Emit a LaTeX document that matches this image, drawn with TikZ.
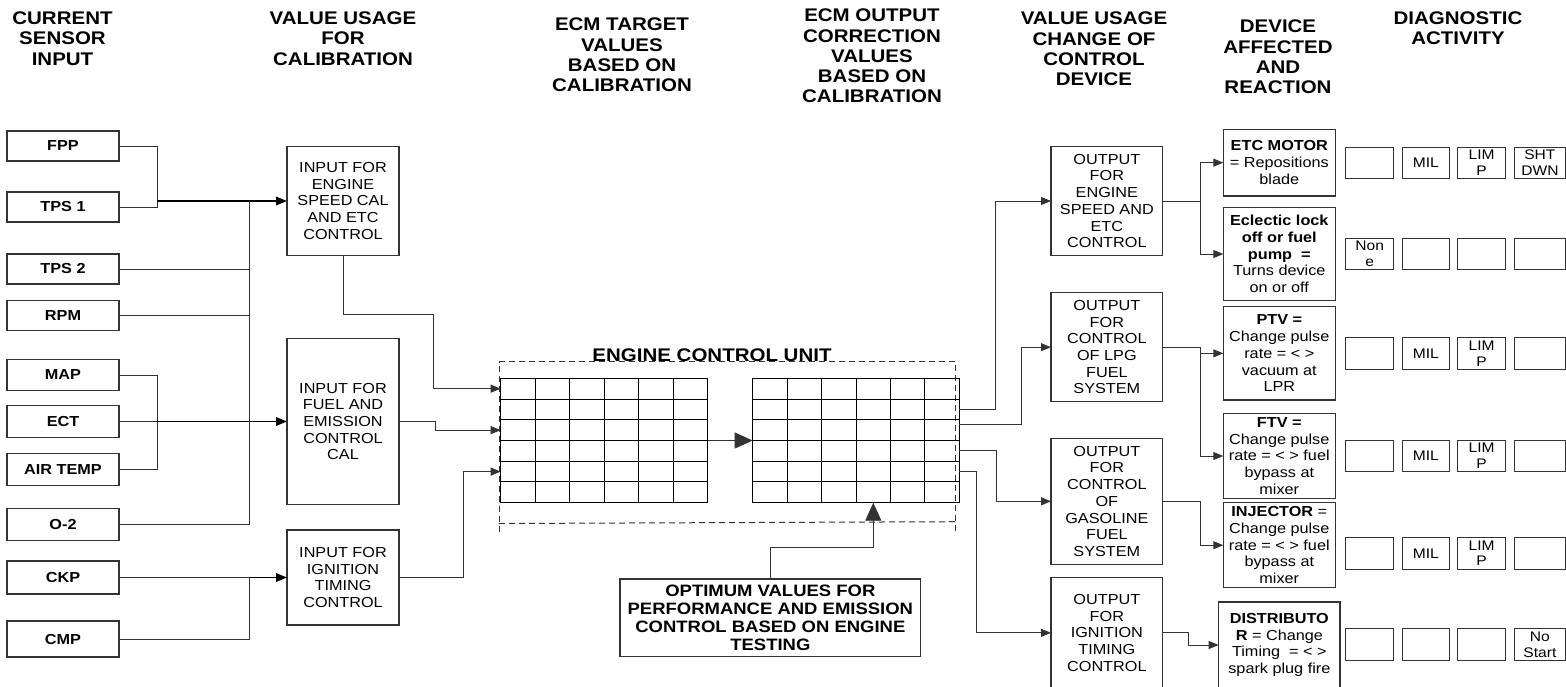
\documentclass[tikz,border=0pt]{standalone}
\usepackage{fontspec}
\setmainfont{Liberation Sans}[FakeStretch=1.12]
\usetikzlibrary{arrows.meta,calc}
\begin{document}
\begin{tikzpicture}[x=1pt,y=-1pt,
  every node/.style={inner sep=0pt, outer sep=0pt},
  hdr/.style={align=center, anchor=north, font=\fontsize{18.3}{20.3}\selectfont\bfseries},
  sensor/.style={draw=black!80, line width=1.1pt, minimum width=112pt, font=\fontsize{14.5}{16}\selectfont\bfseries},
  calbox/.style={draw=black!80, line width=1.1pt, minimum width=112pt, align=center, font=\fontsize{14.5}{16.7}\selectfont},
  diag/.style={draw=black!80, line width=1pt, minimum width=47.5pt, minimum height=31.5pt, align=center, font=\fontsize{13.9}{15.7}\selectfont},
  optbox/.style={draw=black!80, line width=1.1pt, minimum width=300.7pt, minimum height=77.7pt, align=center, font=\fontsize{16.5}{18.3}\selectfont\bfseries},
  gridbox/.style={draw=black, line width=1pt, minimum width=207pt, minimum height=124.4pt},
  wire/.style={draw=black!80, line width=0.9pt},
  thickarr/.style={draw=black, line width=1.7pt, -{Triangle[length=11pt,width=8.5pt]}},
  arr/.style={wire, -{Triangle[length=10pt,width=8pt]}},
  bigarr/.style={wire, -{Triangle[length=18pt,width=16pt]}},
  ecu/.style={draw=black!80, line width=1pt, dash pattern=on 6pt off 4pt}
]
\clip (0,0) rectangle (1566,686);
\fill[white] (0,0) rectangle (1566,686);

% headers
\node[hdr] (h1) at (62.5,11.7) {CURRENT\\SENSOR\\INPUT};
\node[hdr] (h2) at (343,11.7) {VALUE USAGE\\FOR\\CALIBRATION};
\node[hdr] (h3) at (622,18) {ECM TARGET\\VALUES\\BASED ON\\CALIBRATION};
\node[hdr] (h4) at (872,9) {ECM OUTPUT\\CORRECTION\\VALUES\\BASED ON\\CALIBRATION};
\node[hdr] (h5) at (1094,12) {VALUE USAGE\\CHANGE OF\\CONTROL\\DEVICE};
\node[hdr] (h6) at (1278,20) {DEVICE\\AFFECTED\\AND\\REACTION};
\node[hdr] (h7) at (1458,11.7) {DIAGNOSTIC\\ACTIVITY};

% sensors
\node[sensor, minimum height=30pt] (fpp) at (63,146) {FPP};
\node[sensor, minimum height=30pt] (tps1) at (63,207) {TPS 1};
\node[sensor, minimum height=30pt] (tps2) at (63,269) {TPS 2};
\node[sensor, minimum height=30.7pt] (rpm) at (63,315.5) {RPM};
\node[sensor, minimum height=31.3pt] (map) at (63,375) {MAP};
\node[sensor, minimum height=32.3pt] (ect) at (63,421.5) {ECT};
\node[sensor, minimum height=32.3pt] (air) at (63,469.5) {AIR TEMP};
\node[sensor, minimum height=32.3pt] (otwo) at (63,524.5) {O-2};
\node[sensor, minimum height=33pt] (ckp) at (63,577.5) {CKP};
\node[sensor, minimum height=36pt] (cmp) at (63,639) {CMP};

% input calibration boxes
\node[calbox, minimum height=108.6pt] (in1) at (343,201) {INPUT FOR\\ENGINE\\SPEED CAL\\AND ETC\\CONTROL};
\node[calbox, minimum height=165.7pt] (in2) at (343,421.5) {INPUT FOR\\FUEL AND\\EMISSION\\CONTROL\\CAL};
\node[calbox, minimum height=95pt] (in3) at (343,577.5) {INPUT FOR\\IGNITION\\TIMING\\CONTROL};

% ECU
\draw[ecu] (499,532) -- (499,361.7) -- (955.7,361.7) -- (955.7,532);
\draw[ecu] (499,523.5) -- (955.7,521.7);
\node[anchor=base, font=\fontsize{18.3}{20}\selectfont\bfseries] (ecul) at (712,361.5) {ENGINE CONTROL UNIT};
\node[gridbox] (g1) at (604.2,440.5) {};
\node[gridbox, minimum width=206.6pt] (g2) at (856,440.5) {};
\foreach \g in {g1,g2}{
  \foreach \i in {1,...,5}{
    \draw[black, line width=1pt] ($(\g.north west)!\i/6!(\g.north east)$) -- ($(\g.south west)!\i/6!(\g.south east)$);
    \draw[black, line width=1pt] ($(\g.north west)!\i/6!(\g.south west)$) -- ($(\g.north east)!\i/6!(\g.south east)$);
  }
}

% optimum box
\node[optbox] (opt) at (770.35,617.85) {OPTIMUM VALUES FOR\\PERFORMANCE AND EMISSION\\CONTROL BASED ON ENGINE\\TESTING};

% output boxes
\node[calbox, minimum width=111.7pt, minimum height=108.6pt] (o1) at (1106.85,201) {OUTPUT\\FOR\\ENGINE\\SPEED AND\\ETC\\CONTROL};
\node[calbox, minimum width=111.7pt, minimum height=109pt] (o2) at (1106.85,347.2) {OUTPUT\\FOR\\CONTROL\\OF LPG\\FUEL\\SYSTEM};
\node[calbox, minimum width=111.7pt, minimum height=126pt] (o3) at (1106.85,501.3) {OUTPUT\\FOR\\CONTROL\\OF\\GASOLINE\\FUEL\\SYSTEM};
\node[calbox, minimum width=111.7pt, minimum height=110.3pt] (o4) at (1106.85,632.85) {OUTPUT\\FOR\\IGNITION\\TIMING\\CONTROL};

% device boxes
\node[calbox, minimum height=66.7pt] (d1) at (1279.3,162.65) {\textbf{ETC MOTOR}\\= Repositions\\blade};
\node[calbox, minimum height=93.4pt] (d2) at (1279.3,254) {\textbf{Eclectic lock}\\\textbf{off or fuel}\\\textbf{pump \ =}\\Turns device\\on or off};
\node[calbox, minimum height=93.3pt] (d3) at (1279.3,353.35) {\textbf{PTV =}\\Change pulse\\rate = < >\\vacuum at\\LPR};
\node[calbox, minimum height=85.4pt] (d4) at (1279.3,456) {\textbf{FTV =}\\Change pulse\\rate = < > fuel\\bypass at\\mixer};
\node[calbox, minimum height=85pt] (d5) at (1279.3,545.2) {\textbf{INJECTOR} =\\Change pulse\\rate = < > fuel\\bypass at\\mixer};
\node[calbox, minimum width=121.3pt, minimum height=86pt] (d6) at (1279.35,645) {\textbf{DISTRIBUTO}\\\textbf{R} = Change\\Timing \ = < >\\spark plug fire};

% diagnostic boxes
\node[diag] (q11) at (1369.65,162.8) {};
\node[diag] (q12) at (1425.8,162.8) {MIL};
\node[diag] (q13) at (1481.65,162.8) {LIM\\P};
\node[diag, minimum width=51.2pt] (q14) at (1539.9,162.8) {SHT\\DWN};
\node[diag] (q21) at (1369.65,253.8) {Non\\e};
\node[diag] (q22) at (1425.8,253.8) {};
\node[diag] (q23) at (1481.65,253.8) {};
\node[diag, minimum width=51.2pt] (q24) at (1539.9,253.8) {};
\node[diag] (q31) at (1369.65,353.5) {};
\node[diag] (q32) at (1425.8,353.5) {MIL};
\node[diag] (q33) at (1481.65,353.5) {LIM\\P};
\node[diag, minimum width=51.2pt] (q34) at (1539.9,353.5) {};
\node[diag] (q41) at (1369.65,455.8) {};
\node[diag] (q42) at (1425.8,455.8) {MIL};
\node[diag] (q43) at (1481.65,455.8) {LIM\\P};
\node[diag, minimum width=51.2pt] (q44) at (1539.9,455.8) {};
\node[diag] (q51) at (1369.65,553.3) {};
\node[diag] (q52) at (1425.8,553.3) {MIL};
\node[diag] (q53) at (1481.65,553.3) {LIM\\P};
\node[diag, minimum width=51.2pt] (q54) at (1539.9,553.3) {};
\node[diag] (q61) at (1369.65,644.5) {};
\node[diag] (q62) at (1425.8,644.5) {};
\node[diag] (q63) at (1481.65,644.5) {};
\node[diag, minimum width=51.2pt] (q64) at (1539.9,644.5) {No\\Start};

% sensor connectors
\coordinate (j1) at (157,201);
\coordinate (bt) at (249.7,201);
\coordinate (j2) at (157,421.5);
\draw[wire] (fpp.east) -| (j1);
\draw[wire] (tps1.east) -| (j1);
\draw[thickarr] (j1) -- (in1.west);
\draw[wire] (bt) -- (otwo.east -| bt);
\draw[wire] (tps2.east) -- (tps2.east -| bt);
\draw[wire] (rpm.east) -- (rpm.east -| bt);
\draw[wire] (otwo.east) -- (otwo.east -| bt);
\draw[wire] (map.east) -| (j2);
\draw[wire] (air.east) -| (j2);
\draw[wire] (ect.east) -- (j2);
\draw[thickarr] (j2) -- (in2.west);
\draw[wire] (ckp.east) -- (ckp.east -| bt);
\draw[thickarr] (ckp.east -| bt) -- (in3.west);
\draw[wire] (cmp.east) -| (ckp.east -| bt);

% inputs to grid 1
\coordinate (e1) at (433.3,314.3);
\coordinate (e2) at (435.7,421.5);
\coordinate (e3) at (463.3,577.5);
\coordinate (r1) at ($(g1.north west)!0.5/6!(g1.south west)$);
\coordinate (r3) at ($(g1.north west)!2.5/6!(g1.south west)$);
\coordinate (r5) at ($(g1.north west)!4.5/6!(g1.south west)$);
\draw[arr] (in1.south) |- (e1) |- (r1);
\draw[arr] (in2.east) -- (e2) |- (r3);
\draw[arr] (in3.east) -- (e3) |- (r5);

% grid to grid, optimum to grid
\draw[bigarr] (g1.east) -- (g2.west);
\coordinate (c1) at (873.3,547.7);
\draw[bigarr] (opt.north) |- (c1) -- (c1 |- g2.south);

% grid 2 to outputs
\coordinate (k1) at ($(g2.north east)+(0,30.7)$);
\coordinate (k2) at ($(g2.north east)+(0,45.7)$);
\coordinate (k3) at ($(g2.north east)+(0,72.4)$);
\coordinate (k4) at ($(g2.north east)+(0,93.4)$);
\draw[arr] (k1) -| (995,201) -- (o1.west);
\draw[arr] (k2) -| (1021,347.2) -- (o2.west);
\draw[arr] (k3) -| (996.7,501.3) -- (o3.west);
\draw[arr] (k4) -| (976,632.85) -- (o4.west);

% outputs to devices
\coordinate (b1) at (1200,201);
\coordinate (b2) at (1200,347.2);
\coordinate (b3) at (1200,501.3);
\coordinate (b4) at (1188.7,632.85);
\draw[wire] (o1.east) -- (b1);
\draw[arr] (b1) |- (d1.west);
\draw[arr] (b1) |- (d2.west);
\draw[wire] (o2.east) -- (b2);
\draw[arr] (b2) |- (d3.west);
\draw[arr] (b2) |- (d4.west);
\draw[arr] (o3.east) -- (b3) |- (d5.west);
\draw[arr] (o4.east) -- (b4) |- (d6.west);
\end{tikzpicture}
\end{document}
